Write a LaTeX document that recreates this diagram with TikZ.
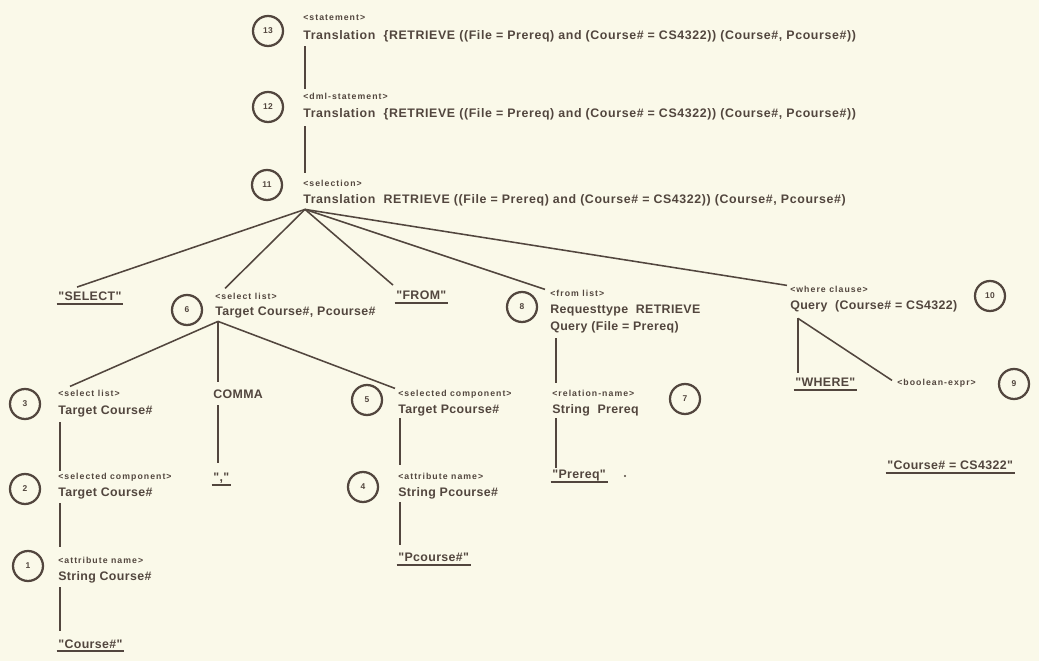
\documentclass[tikz,border=0pt]{standalone}
\usepackage{fontspec}
\setmainfont{Liberation Sans}
\newfontfamily\lblfamily[LetterSpace=12]{Liberation Sans}
\newfontfamily\valfamily[LetterSpace=3]{Liberation Sans}
\newfontfamily\widefamily[LetterSpace=5]{Liberation Sans}
\usepackage{tikz}
\usetikzlibrary{positioning,calc}
\definecolor{paper}{RGB}{250,249,233}
\definecolor{ink}{RGB}{82,70,62}
\newcommand{\valfont}{\valfamily\fontsize{8.8}{10}\selectfont\bfseries}
\newcommand{\widefont}{\widefamily\fontsize{8.8}{10}\selectfont\bfseries}
\newcommand{\lblfont}{\lblfamily\fontsize{6.2}{8}\selectfont\bfseries}
\tikzset{
  num/.style={circle, draw=ink, line width=1.6pt, minimum size=0.75cm, inner sep=0pt,
              text=ink, font=\valfamily\fontsize{6}{6}\selectfont\bfseries},
  cat/.style={anchor=base west, inner sep=0pt, text=ink, font=\lblfont},
  val/.style={anchor=base west, inner sep=0pt, text=ink, font=\valfont, text depth=1.5pt},
  trans/.style={val, font=\widefont},
  uline/.style={draw=ink, line width=1.1pt},
  lit/.style={val, append after command={([xshift=-1pt,yshift=-0.6pt]\tikzlastnode.south west)
              edge[uline] ([xshift=1pt,yshift=-0.6pt]\tikzlastnode.south east)}},
  branch/.style={draw=ink, line width=1.1pt}
}

\begin{document}
\begin{tikzpicture}[x=0.025cm, y=-0.025cm]
\fill[paper] (0,0) rectangle (1039,661);
\useasboundingbox (0,0) rectangle (1039,661);

% root chain
\node[num] (n13) at (268,31) {13};
\node[cat] (stmtL) at (303,21) {<statement>};
\node[trans] (stmt) at (303,40) {Translation \ \{RETRIEVE ((File = Prereq) and (Course\# = CS4322)) (Course\#, Pcourse\#))};
\node[num] (n12) at (268,107) {12};
\node[cat] (dmlL) at (303,100) {<dml-statement>};
\node[trans] (dml) at (303,118) {Translation \ \{RETRIEVE ((File = Prereq) and (Course\# = CS4322)) (Course\#, Pcourse\#))};
\node[num] (n11) at (267,185) {11};
\node[cat] (selnL) at (303,187) {<selection>};
\node[trans] (seln) at (303,204) {Translation \ RETRIEVE ((File = Prereq) and (Course\# = CS4322)) (Course\#, Pcourse\#)};

\draw[branch] ($(stmt.south west)+(2,4)$) -- ($(dmlL.north west)+(2,-4)$);
\draw[branch] ($(dml.south west)+(2,6)$) -- ($(selnL.north west)+(2,-7)$);

% children of <selection>
\node[lit] (selkw) at (58,301) {"SELECT"};
\node[num] (n6) at (187,310) {6};
\node[cat] (sl1L) at (215,300) {<select list>};
\node[val] (sl1) at (215,316) {Target Course\#, Pcourse\#};
\node[lit] (fromkw) at (396,300) {"FROM"};
\node[num] (n8) at (522,307) {8};
\node[cat] (flL) at (550,297) {<from list>};
\node[val] (fl1) at (550,314) {Requesttype \ RETRIEVE};
\node[val] (fl2) at (550,331) {Query (File = Prereq)};
\node[cat] (wcL) at (790,293) {<where clause>};
\node[val] (wc) at (790,310) {Query \ (Course\# = CS4322)};
\node[num] (n10) at (990,296) {10};

\coordinate (selnA) at ($(seln.south west)+(2,3)$);
\draw[branch] (selnA) -- ($(selkw.north west)+(19,-5)$);
\draw[branch] (selnA) -- ($(sl1L.north west)+(10,-5)$);
\draw[branch] (selnA) -- ($(fromkw.north west)+(-3,-6)$);
\draw[branch] (selnA) -- ($(flL.north west)+(-5,-1)$);
\draw[branch] (selnA) -- ($(wcL.north west)+(-3,-1)$);

% select list subtree
\node[num] (n3) at (25,404) {3};
\node[cat] (sl2L) at (58,397) {<select list>};
\node[val] (sl2) at (58,415) {Target Course\#};
\node[val] (comma) at (213,399) {COMMA};
\node[num] (n5) at (367,400) {5};
\node[cat] (sc2L) at (398,397) {<selected component>};
\node[val] (sc2) at (398,414) {Target Pcourse\#};

\coordinate (sl1A) at ($(sl1.south west)+(3,3)$);
\draw[branch] (sl1A) -- ($(sl2L.north west)+(12,-4)$);
\draw[branch] (sl1A) -- ($(comma.north west)+(5,-8)$);
\draw[branch] (sl1A) -- ($(sc2L.north west)+(-3,-2)$);

\node[num] (n2) at (25,489) {2};
\node[cat] (sc1L) at (58,480) {<selected component>};
\node[val] (sc1) at (58,497) {Target Course\#};
\node[lit] (commakw) at (213,482) {","};
\node[num] (n4) at (363,487) {4};
\node[cat] (anL) at (398,480) {<attribute name>};
\node[val] (an) at (398,497) {String Pcourse\#};
\node[num] (n1) at (28,566) {1};
\node[cat] (an2L) at (58,563) {<attribute name>};
\node[val] (an2) at (58,580) {String Course\#};
\node[lit] (ckw) at (58,648) {"Course\#"};
\node[lit] (pckw) at (398,562) {"Pcourse\#"};

\draw[branch] ($(sl2.south west)+(2,5)$) -- ($(sc1L.north west)+(2,-2)$);
\draw[branch] ($(sc1.south west)+(2,4)$) -- ($(an2L.north west)+(2,-9)$);
\draw[branch] ($(an2.south west)+(2,5)$) -- ($(ckw.north west)+(2,-8)$);
\draw[branch] ($(comma.south west)+(5,4)$) -- ($(commakw.north west)+(5,-10)$);
\draw[branch] ($(sc2.south west)+(2,2)$) -- ($(anL.north west)+(2,-8)$);
\draw[branch] ($(an.south west)+(2,3)$) -- ($(pckw.north west)+(2,-8)$);

% from list subtree
\node[cat] (rnL) at (552,397) {<relation-name>};
\node[val] (rn) at (552,414) {String \ Prereq};
\node[num] (n7) at (685,399) {7};
\node[lit] (prereqkw) at (552,479) {"Prereq"};
\fill[ink] (625,476) circle (1.2);

\draw[branch] ($(fl2.south west)+(6,5)$) -- ($(rnL.north west)+(4,-7)$);
\draw[branch] ($(rn.south west)+(4,2)$) -- ($(prereqkw.north west)+(4,-2)$);

% where clause subtree
\node[lit] (wherekw) at (795,387) {"WHERE"};
\node[cat] (beL) at (897,386) {<boolean-expr>};
\node[num] (n9) at (1014,384) {9};
\node[lit] (boolkw) at (887,470) {"Course\# = CS4322"};

\coordinate (wcA) at ($(wc.south west)+(8,6)$);
\draw[branch] (wcA) -- ($(wherekw.north west)+(3,-5)$);
\draw[branch] (wcA) -- ($(beL.north west)+(-5,1)$);
\end{tikzpicture}
\end{document}
